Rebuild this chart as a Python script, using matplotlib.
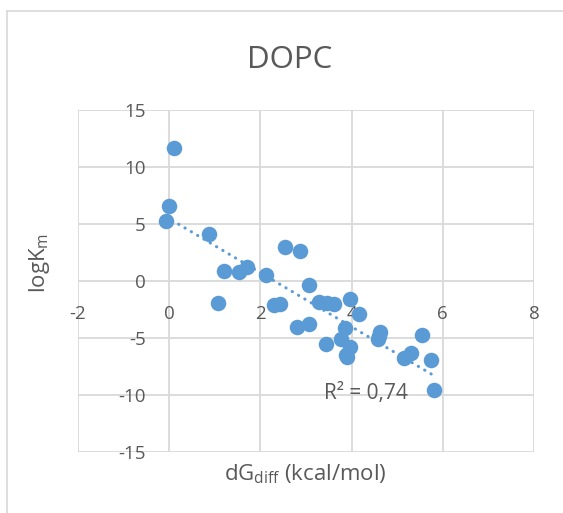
import numpy as np
import matplotlib
matplotlib.use("Agg")
import matplotlib.pyplot as plt
from matplotlib.lines import Line2D

# dG_diff (kcal/mol) and logKm values
dg_diff = [-0.07, 0.00, 0.10, 0.88, 1.08, 1.21, 1.54, 1.71, 2.12, 2.29,
           2.44, 2.53, 2.86, 2.81, 3.06, 3.07, 3.28, 3.47, 3.61, 3.44,
           3.76, 3.85, 3.87, 3.90, 3.96, 3.96, 4.16, 4.58, 4.60, 4.63,
           5.15, 5.31, 5.55, 5.75, 5.81]
log_km = [5.3, 6.6, 11.7, 4.1, -1.95, 0.9, 0.8, 1.25, 0.5, -2.1,
          -2.05, 3.0, 2.65, -4.05, -3.8, -0.35, -1.8, -1.9, -2.0, -5.5,
          -5.1, -4.1, -6.45, -6.7, -1.6, -5.75, -2.9, -5.1, -4.8, -4.45,
          -6.75, -6.35, -4.75, -6.95, -9.6]

x_ticks = [-2, 0, 2, 4, 6, 8]
y_ticks = [-15, -10, -5, 0, 5, 10, 15]
r2_text = "R² = 0,74"

BLUE = "#5B9BD5"
GRID = "#D9D9D9"
TEXT = "#595959"
FONT = ["Open Sans", "DejaVu Sans"]

plt.rcParams["font.family"] = FONT

W, H = 563, 513
fig = plt.figure(figsize=(W / 100, H / 100), dpi=100)

# plot area in pixel coordinates
left_px, right_px, top_px, bottom_px = 78, 534, 110, 452
ax = fig.add_axes([left_px / W, 1 - bottom_px / H,
                   (right_px - left_px) / W, (bottom_px - top_px) / H])

ax.set_xlim(-2, 8)
ax.set_ylim(-15, 15)
ax.set_xticks(x_ticks)
ax.set_yticks(y_ticks)
ax.set_xticklabels([str(v) for v in x_ticks])
ax.set_yticklabels([str(v) for v in y_ticks])

for s in ax.spines.values():
    s.set_visible(False)
ax.spines["left"].set_position(("data", 0))
ax.spines["bottom"].set_position(("data", 0))
ax.grid(True, color=GRID, linewidth=1.3)
ax.set_axisbelow(True)
ax.tick_params(axis="y", length=0, pad=17, labelsize=13.5, labelcolor=TEXT)
ax.tick_params(axis="x", length=0, pad=17, labelsize=13.5, labelcolor=TEXT)

ax.scatter(dg_diff, log_km, s=125, color=BLUE, linewidths=0, zorder=3,
           clip_on=False)

# linear trendline over the data range
slope, intercept = np.polyfit(dg_diff, log_km, 1)
xs = np.array([min(dg_diff), max(dg_diff)])
ax.plot(xs, slope * xs + intercept, color=BLUE, linewidth=2.2,
        linestyle=(0, (0.1, 2.3)), dash_capstyle="round", zorder=4)

ax.text(4.31, -9.9, r2_text, ha="center", va="center", fontsize=15,
        color=TEXT)

# titles
fig.text(290 / W, 1 - 60 / H, "DOPC", ha="center", va="center",
         fontsize=22.5, color=TEXT)
fig.text(305 / W, 1 - 474 / H, r"dG$_{\mathregular{diff}}$ (kcal/mol)",
         ha="center", va="center", fontsize=16, color=TEXT)
fig.text(40 / W, 1 - 263 / H, r"logK$_{\mathregular{m}}$", ha="center",
         va="center", rotation=90, fontsize=16, color=TEXT)

# chart area frame (left and top edges)
fig.add_artist(Line2D([7 / W, 7 / W], [0, 1 - 11 / H], color=GRID,
                      linewidth=1.2, transform=fig.transFigure))
fig.add_artist(Line2D([7 / W, 1], [1 - 11 / H, 1 - 11 / H], color=GRID,
                      linewidth=1.2, transform=fig.transFigure))

fig.savefig("out.png", dpi=100, facecolor="white")
